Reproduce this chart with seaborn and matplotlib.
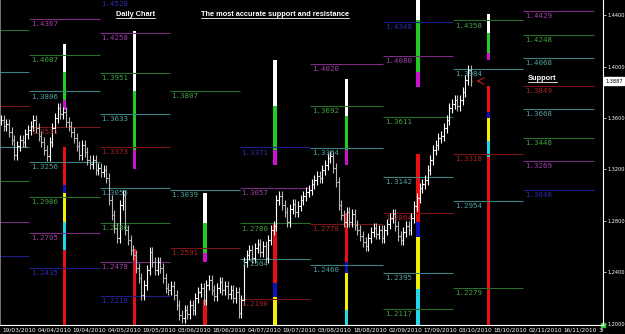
import numpy as np
import pandas as pd
import matplotlib
matplotlib.use("Agg")
import matplotlib.pyplot as plt
from matplotlib.lines import Line2D
from matplotlib.transforms import Bbox, TransformedBbox, blended_transform_factory
import seaborn as sns

# daily closes from 19/03/2010 (one bar per day, Saturdays skipped)
closes = [
    1.3585, 1.3538, 1.3554, 1.3491, 1.3429, 1.3313, 1.3383, 1.3429, 1.3414, 1.3476,
    1.3507, 1.3538, 1.3585, 1.3522, 1.3460, 1.3414, 1.3351, 1.3305, 1.3414, 1.3522,
    1.3600, 1.3678, 1.3631, 1.3647, 1.3569, 1.3538, 1.3491, 1.3445, 1.3383, 1.3313,
    1.3390, 1.3336, 1.3274, 1.3243, 1.3274, 1.3196, 1.3212, 1.3181, 1.3196, 1.3134,
    1.2963, 1.2846, 1.2745, 1.2668, 1.2924, 1.3002, 1.2730, 1.2652, 1.2574, 1.2536,
    1.2435, 1.2357, 1.2225, 1.2303, 1.2419, 1.2559, 1.2481, 1.2419, 1.2481, 1.2435,
    1.2357, 1.2279, 1.2264, 1.2295, 1.2225, 1.2147, 1.2070, 1.2046, 1.2108,
    1.2077, 1.2147, 1.2108, 1.2202, 1.2248, 1.2279, 1.2186, 1.2303, 1.2341, 1.2264,
    1.2217, 1.2279, 1.2326, 1.2264, 1.2295, 1.2233, 1.2264, 1.2202, 1.2248, 1.2085,
    1.2186, 1.2481, 1.2536, 1.2574, 1.2512, 1.2590, 1.2621, 1.2559, 1.2605, 1.2512,
    1.2652, 1.2730, 1.2761, 1.2963, 1.2994, 1.2924, 1.2870, 1.2792, 1.2893, 1.2932,
    1.2870, 1.2916, 1.2963, 1.2994, 1.3025, 1.3041, 1.3087, 1.3118, 1.3149, 1.3134,
    1.3196, 1.3235, 1.3289, 1.3305, 1.3212, 1.3103, 1.2924, 1.2846, 1.2792, 1.2870,
    1.2792, 1.2854, 1.2769, 1.2730, 1.2683, 1.2637, 1.2606, 1.2668, 1.2714,
    1.2745, 1.2699, 1.2730, 1.2668, 1.2730, 1.2776, 1.2823, 1.2854, 1.2761, 1.2683,
    1.2652, 1.2714, 1.2761, 1.2730, 1.2823, 1.2916, 1.2979, 1.3056, 1.3087, 1.3118,
    1.3196, 1.3274, 1.3351, 1.3390, 1.3445, 1.3460, 1.3522, 1.3585, 1.3678, 1.3709,
    1.3740, 1.3693, 1.3740, 1.3802, 1.3895, 1.3973, 1.3887,
]

date_labels = ['19/03/2010', '04/04/2010', '19/04/2010', '04/05/2010', '19/05/2010',
               '03/06/2010', '18/06/2010', '04/07/2010', '19/07/2010', '03/08/2010',
               '18/08/2010', '02/09/2010', '17/09/2010', '03/10/2010', '18/10/2010',
               '02/11/2010', '16/11/2010', '30/11/2010']
price_ticks = [1.2000, 1.2400, 1.2800, 1.3200, 1.3600, 1.4000, 1.4400]

# monthly support / resistance levels
months = ['2010-03', '2010-04', '2010-05', '2010-06', '2010-07',
          '2010-08', '2010-09', '2010-10', '2010-11']
lv_mar = [1.4283, 1.3957, 1.3693, 1.3374, 1.3110, 1.2792, 1.2527]
cl_mar = ['green', 'teal', 'red', 'teal', 'green', 'magenta', 'blue']
lv_apr = [1.4367, 1.4087, 1.3806, 1.3531, 1.3256, 1.2986, 1.2705, 1.2435]
cl_apr = ['magenta', 'green', 'teal', 'red', 'teal', 'green', 'magenta', 'blue']
lv_may = [1.4528, 1.4258, 1.3951, 1.3633, 1.3373, 1.3055, 1.2786, 1.2478, 1.2218]
cl_may = ['blue', 'magenta', 'green', 'teal', 'red', 'teal', 'green', 'magenta', 'blue']
lv_jun = [1.3807, 1.3039, 1.2591]
cl_jun = ['green', 'teal', 'red']
lv_jul = [1.3371, 1.3057, 1.2780, 1.2504, 1.2190]
cl_jul = ['blue', 'magenta', 'green', 'teal', 'red']
lv_aug = [1.4020, 1.3692, 1.3364, 1.2778, 1.2460]
cl_aug = ['magenta', 'green', 'teal', 'red', 'teal']
lv_sep = [1.4348, 1.4080, 1.3611, 1.3142, 1.2864, 1.2395, 1.2117]
cl_sep = ['blue', 'magenta', 'green', 'teal', 'red', 'teal', 'green']
lv_oct = [1.4358, 1.3984, 1.3318, 1.2954, 1.2279]
cl_oct = ['green', 'teal', 'red', 'teal', 'green']
lv_nov = [1.4429, 1.4248, 1.4068, 1.3849, 1.3668, 1.3448, 1.3269, 1.3040]
cl_nov = ['magenta', 'green', 'teal', 'red', 'teal', 'green', 'magenta', 'blue']

# zone histograms in the middle of each month (Apr..Oct)
zone_months = ['2010-04', '2010-05', '2010-06', '2010-07', '2010-08', '2010-09', '2010-10']
res_zones = [
    [1.4175, 1.3957, 1.3740, 1.3662],
    [1.4276, 1.3809, 1.3351, 1.3203],
    [1.3017, 1.2784, 1.2551, 1.2481],
    [1.4050, 1.3693, 1.3351, 1.3235],
    [1.3903, 1.3615, 1.3351, 1.3235],
    [1.4600, 1.4361, 1.3957, 1.3841],
    [1.4408, 1.4260, 1.4105, 1.4050],
]
sup_zones = [
    [1.3374, 1.3079, 1.3017, 1.2792, 1.2574, 1.1900],
    [1.2582, 1.1900],
    [1.2186, 1.1900],
    [1.2776, 1.2318, 1.2209, 1.1900],
    [1.2862, 1.2481, 1.2395, 1.2108, 1.1900],
    [1.3320, 1.2792, 1.2675, 1.2271, 1.1900],
    [1.3848, 1.3646, 1.3600, 1.3421, 1.3297, 1.1900],
]

line_col = {'green': '#2b6e2b', 'teal': '#3d8282', 'red': '#7c1616',
            'magenta': '#7c2c82', 'blue': '#1e1e86'}
text_col = {'green': '#40a040', 'teal': '#55a0a0', 'red': '#a82222',
            'magenta': '#a040a8', 'blue': '#2c2cb0'}
res_colors = ['#ffffff', '#22cc22', '#d010d0']
sup_colors = ['#e81010', '#1010b8', '#f2f200', '#20d8e8', '#e81010']

sns.set_theme(style='dark', rc={'axes.facecolor': 'black', 'figure.facecolor': 'black',
                                'axes.grid': False})
plt.rcParams['font.family'] = ['DejaVu Sans']

fig = plt.figure(figsize=(6.25, 3.34), dpi=100)
ax = fig.add_axes([0, 9 / 334, 603 / 625, 325 / 334])
xlim = (-0.37, 222.96)
ylim = (1.1991, 1.4517)

# calendar of bars: every day except Saturday
days = pd.date_range('2010-03-19', '2010-12-31')
days = days[days.dayofweek != 5]
bar_month = np.array(days.strftime('%Y-%m'))
starts = [int(np.argmax(bar_month == m)) - 0.5 for m in months]
starts[0] = xlim[0]
ends = starts[1:] + [int(np.argmax(bar_month == '2010-12')) - 0.5]

# levels
all_lv = [lv_mar, lv_apr, lv_may, lv_jun, lv_jul, lv_aug, lv_sep, lv_oct, lv_nov]
all_cl = [cl_mar, cl_apr, cl_may, cl_jun, cl_jul, cl_aug, cl_sep, cl_oct, cl_nov]
for k, (lv, cl) in enumerate(zip(all_lv, all_cl)):
    x0, x1 = starts[k], ends[k]
    for v, c in zip(lv, cl):
        ax.hlines(v, x0, x1, color=line_col[c], lw=0.8)
        if k > 0:
            ax.text(x0 + 0.6, v - 0.0016, f'{v:.4f}', color=text_col[c], fontsize=5.4,
                    family='DejaVu Sans Mono', va='top', ha='left')

# zone bars
for m, res, sup in zip(zone_months, res_zones, sup_zones):
    k = months.index(m)
    xm = (starts[k] + ends[k]) / 2
    for j in range(len(res) - 1):
        ax.bar(xm, res[j] - res[j + 1], bottom=res[j + 1], width=1.3,
               color=res_colors[j], linewidth=0)
    for j in range(len(sup) - 1):
        ax.bar(xm, sup[j] - sup[j + 1], bottom=sup[j + 1], width=1.3,
               color=sup_colors[j], linewidth=0)

# price bars
c = np.array(closes)
o = np.r_[c[0], c[:-1]]
x = np.arange(len(c))
wick = 0.004
hi = np.maximum(o, c) + wick
lo = np.minimum(o, c) - wick
cols = np.where(c >= o, '#ffffff', '#b8b8b8')
ax.vlines(x, lo, hi, colors=cols, lw=0.8)
ax.hlines(o, x - 0.5, x, colors=cols, lw=0.8)
ax.hlines(c, x, x + 0.5, colors=cols, lw=0.8)
ax.annotate('', xy=(x[-1] + 1.0, c[-1]), xytext=(x[-1] + 4.5, c[-1]),
            arrowprops=dict(arrowstyle='->', color='#b02020', lw=0.8))

ax.set_xlim(*xlim)
ax.set_ylim(*ylim)

# axes styling
ax.spines['top'].set_visible(False)
ax.spines['left'].set_color('#8a8a8a')
ax.spines['left'].set_linewidth(0.6)
ax.spines['bottom'].set_color('white')
ax.spines['bottom'].set_linewidth(0.8)
ax.spines['right'].set_color('white')
ax.spines['right'].set_linewidth(0.8)
ax.yaxis.tick_right()
ax.set_yticks(price_ticks)
ax.set_yticklabels([f'{t:.4f}' for t in price_ticks])
ax.tick_params(axis='y', colors='white', labelsize=3.6, length=2, width=0.5, pad=1.5)
tick_pos = [13 * i for i in range(len(date_labels))]
ax.set_xticks(tick_pos)
ax.set_xticklabels([])
ax.tick_params(axis='x', colors='white', length=2, width=0.5)

# date labels, clipped at the price scale
blend = blended_transform_factory(ax.transData, fig.transFigure)
clip = TransformedBbox(Bbox([[0, 0], [603 / 625, 1]]), fig.transFigure)
for p, lab in zip(tick_pos, date_labels):
    t = fig.text(p + 0.4, 4.5 / 334, lab, transform=blend, color='white', fontsize=4.2,
                 va='center', ha='left')
    t.set_clip_box(clip)

# current price box
ax.text(1.004, c[-1], f'{c[-1]:.4f}', transform=blended_transform_factory(ax.transAxes, ax.transData),
        fontsize=3.6, color='black', va='center', ha='left', clip_on=False,
        bbox=dict(boxstyle='square,pad=0.25', fc='white', ec='white'))
ax.plot([1.0], [0.0], 's', transform=ax.transAxes, color='#30d030', ms=2.5, clip_on=False)


def underlined(xp, yp, s):
    t = fig.text(xp / 625, 1 - yp / 334, s, color='white', fontsize=5.3, fontweight='bold',
                 family='Liberation Sans', va='top', ha='left')
    fig.canvas.draw()
    bb = t.get_window_extent()
    inv = fig.transFigure.inverted()
    (a0, b0), (a1, _) = inv.transform([(bb.x0, bb.y0), (bb.x1, bb.y0)])
    fig.add_artist(Line2D([a0, a1], [b0, b0], transform=fig.transFigure, color='white', lw=0.6))


underlined(116, 11, 'Daily Chart')
underlined(201, 11, 'The most accurate support and resistance')
underlined(528, 75, 'Support')

fig.savefig('out.png', dpi=100, facecolor='black')
